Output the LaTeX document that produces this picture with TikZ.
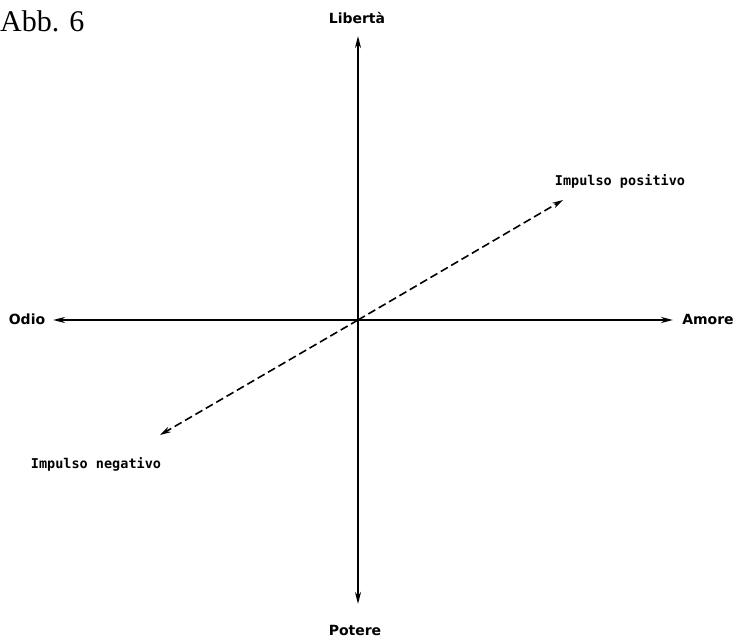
\documentclass[tikz,border=0pt]{standalone}
\usepackage{fontspec}
\setmainfont{Liberation Serif}
\newfontfamily\axfont{DejaVu Sans}
\newfontfamily\comicfont{DejaVu Sans Mono}
\usetikzlibrary{arrows.meta}
\begin{document}
\begin{tikzpicture}[x=1pt,y=-1pt,
  axis/.style={line width=2pt,-{Stealth[length=12pt,width=6pt]}},
  impulse/.style={line width=1.6pt,dash pattern=on 8pt off 4pt,-{Stealth[length=11pt,width=6pt]}},
  axlabel/.style={font=\axfont\bfseries\fontsize{14}{16}\selectfont,inner sep=0pt},
  implabel/.style={font=\comicfont\bfseries\fontsize{13.5}{16}\selectfont,inner sep=0pt}]
\useasboundingbox (0,0) rectangle (737,639);
\coordinate (O) at (358,320);
\coordinate (top) at (358,36);
\coordinate (bot) at (358,604);
\coordinate (left) at (53,320);
\coordinate (right) at (673,320);
\coordinate (pos) at (563,200);
\coordinate (neg) at (160,435);
\node[font=\fontsize{30}{34}\selectfont,anchor=west,inner sep=0pt] (title) at (0,21) {Abb. 6};
\node[axlabel] (lib) at (357,18) {Libertà};
\node[axlabel] (pot) at (355,630) {Potere};
\node[axlabel] (odio) at (27,319) {Odio};
\node[axlabel] (amore) at (708,319) {Amore};
\node[implabel] (ip) at (620,181) {Impulso positivo};
\node[implabel] (in) at (96,464) {Impulso negativo};
\draw[axis] (O) -- (top);
\draw[axis] (O) -- (bot);
\draw[axis] (O) -- (left);
\draw[axis] (O) -- (right);
\draw[impulse] (O) -- (pos);
\draw[impulse] (O) -- (neg);
\end{tikzpicture}
\end{document}
